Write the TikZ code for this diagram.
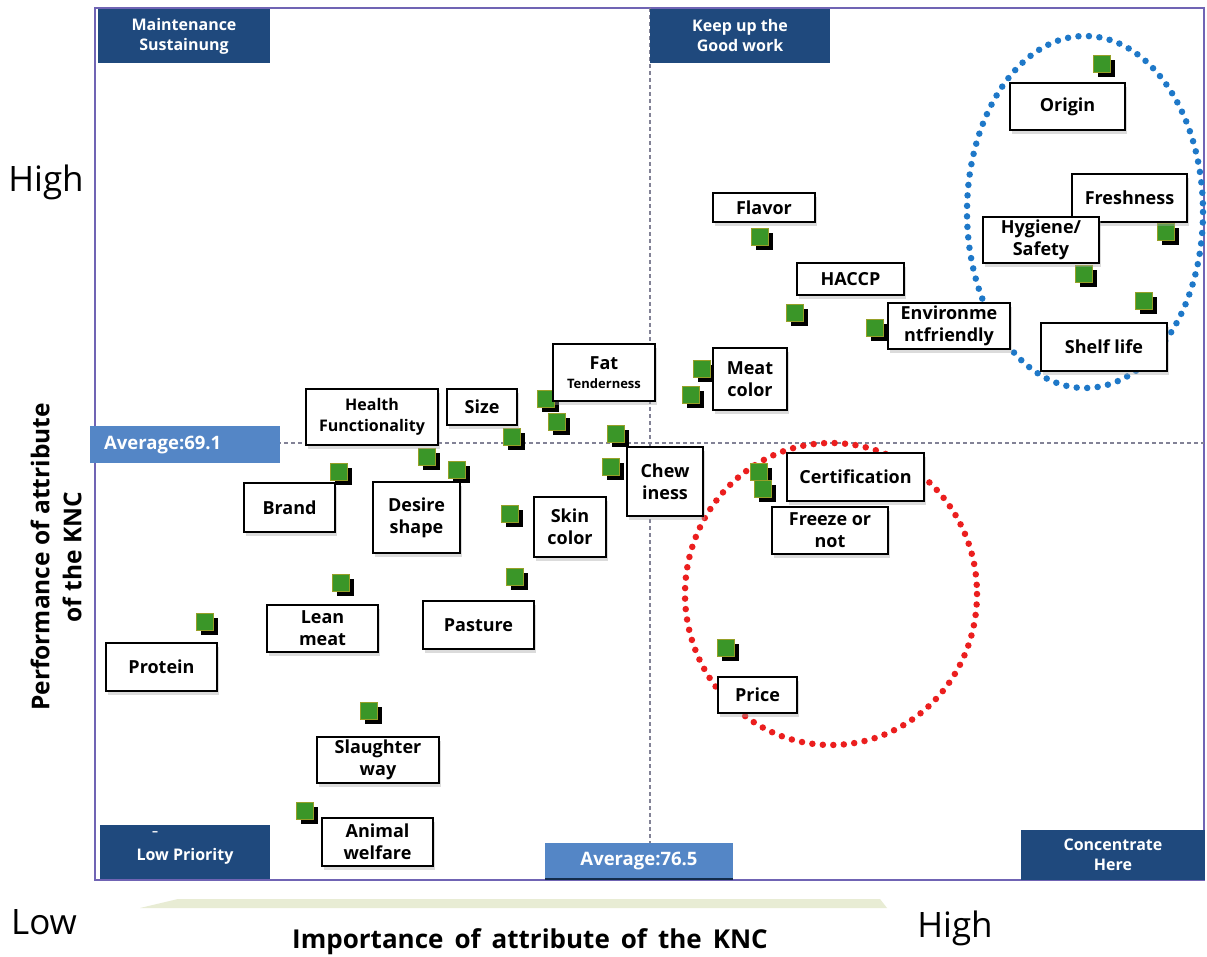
\documentclass[tikz,border=0pt]{standalone}
\usepackage{fontspec}
\setmainfont{Open Sans}
\usetikzlibrary{shadows}

\definecolor{quadblue}{RGB}{31,73,125}
\definecolor{avgblue}{RGB}{84,134,198}
\definecolor{framecol}{RGB}{112,100,180}
\definecolor{mkgreen}{RGB}{58,150,40}
\definecolor{mkedge}{RGB}{150,160,40}
\definecolor{dotblue}{RGB}{30,120,200}
\definecolor{dotred}{RGB}{235,30,30}
\definecolor{bandcol}{RGB}{232,236,212}
\definecolor{gridgray}{RGB}{130,130,150}

\begin{document}
\begin{tikzpicture}[x=1pt,y=-1pt,
  lab/.style={draw=black, line width=1.3pt, fill=white, inner sep=0pt, align=center,
    font=\fontsize{18}{22}\selectfont\bfseries,
    general shadow={fill=black!35, opacity=0.4, shadow xshift=2pt, shadow yshift=-4pt}},
  mk/.style={minimum size=17pt, inner sep=0pt, fill=mkgreen, draw=mkedge, line width=0.8pt,
    general shadow={fill=black, shadow xshift=5pt, shadow yshift=-5pt}},
  quad/.style={fill=quadblue, text=white, inner sep=0pt, align=center,
    font=\fontsize{16}{20}\selectfont\bfseries},
  avg/.style={fill=avgblue, text=white, inner sep=0pt,
    font=\fontsize{18.5}{22}\selectfont\bfseries},
  dotring/.style={line width=6.5pt, line cap=round, dash pattern=on 0pt off 10.5pt},
  grid/.style={gridgray, line width=1.2pt, dash pattern=on 4pt off 3pt}
]
% canvas
\fill[white] (0,0) rectangle (1207,957);
\useasboundingbox (0,0) rectangle (1207,957);

% plot frame and average lines
\draw[framecol, line width=2pt] (95,8) rectangle (1204,880);
\draw[grid] (650,8) -- (650,880);
\draw[grid] (95,443) -- (1204,443);

% highlighted groups
\draw[dotring, dotblue] (1085,212) ellipse [x radius=118, y radius=176];
\draw[dotring, dotred] (831,594) ellipse [x radius=146, y radius=151];

% quadrant captions
\node[quad, minimum width=172pt, minimum height=54pt] (qMS) at (184,36) {Maintenance\\Sustainung};
\node[quad, minimum width=180pt, minimum height=54pt] (qKG) at (740,36) {Keep up the\\Good work};
\node[quad, minimum width=170pt, minimum height=54pt] (qLP) at (185,852) {};
\node[quad] (qLPt) at (185,856) {Low Priority};
\node[text=white, font=\fontsize{12}{12}\selectfont\bfseries] (qLPd) at (155,834) {–};
\node[quad, minimum width=184pt, minimum height=50pt] (qCH) at (1113,855) {Concentrate\\Here};

% average markers
\node[avg, minimum width=190pt, minimum height=37pt] (avgY) at (185,444.5) {};
\node[avg, anchor=west] (avgYt) at (104,445) {Average:69.1};
\node[avg, minimum width=188pt, minimum height=36pt] (avgX) at (639,861) {Average:76.5};
\draw[quadblue!60!black, line width=2pt] (avgX.south west) -- (avgX.south east);

% attribute markers
\node[mk] (mOrigin) at (1101.5,63.5) {};
\node[mk] (mFresh) at (1165.5,231.5) {};
\node[mk] (mHyg) at (1083.5,273.5) {};
\node[mk] (mShelf) at (1143.5,300.5) {};
\node[mk] (mFlavor) at (759.5,236.5) {};
\node[mk] (mHACCP) at (794.5,312.5) {};
\node[mk] (mEnv) at (874.5,327.5) {};
\node[mk] (mMeatA) at (701.5,368.5) {};
\node[mk] (mMeatB) at (690.5,394.5) {};
\node[mk] (mFatA) at (545.5,398.5) {};
\node[mk] (mFatB) at (556.5,421.5) {};
\node[mk] (mChewA) at (615.5,433.5) {};
\node[mk] (mChewB) at (610.5,466.5) {};
\node[mk] (mSize) at (511.5,436.5) {};
\node[mk] (mHealthA) at (426.5,456.5) {};
\node[mk] (mHealthB) at (456.5,469.5) {};
\node[mk] (mBrand) at (338.5,471.5) {};
\node[mk] (mSkin) at (509.5,513.5) {};
\node[mk] (mLean) at (340.5,582.5) {};
\node[mk] (mPasture) at (514.5,576.5) {};
\node[mk] (mProtein) at (204.5,621.5) {};
\node[mk] (mSlaughter) at (368.5,710.5) {};
\node[mk] (mAnimal) at (304.5,810.5) {};
\node[mk] (mCertA) at (758.5,471.5) {};
\node[mk] (mCertB) at (762.5,488.5) {};
\node[mk] (mPrice) at (725.5,647.5) {};

% attribute labels
\node[lab, minimum width=115pt, minimum height=47pt] (lOrigin) at (1067.5,106.5) {Origin};
\node[lab, minimum width=115pt, minimum height=48pt] (lFresh) at (1129.5,198) {Freshness};
\node[lab, minimum width=116pt, minimum height=46pt] (lHyg) at (1041,240) {Hygiene/\\Safety};
\node[lab, minimum width=126pt, minimum height=48pt] (lShelf) at (1104,347) {Shelf life};
\node[lab, minimum width=102pt, minimum height=29pt] (lFlavor) at (764,207.5) {Flavor};
\node[lab, minimum width=107pt, minimum height=32pt] (lHACCP) at (850.5,279) {HACCP};
\node[lab, minimum width=122pt, minimum height=46pt] (lEnv) at (949,326) {Environme\\ntfriendly};
\node[lab, minimum width=74pt, minimum height=62pt] (lMeat) at (750,379) {Meat\\color};
\node[lab, minimum width=102pt, minimum height=57pt] (lFat) at (604,372.5)
  {Fat\\[-3pt]{\fontsize{13}{14}\selectfont Tenderness}};
\node[lab, minimum width=76pt, minimum height=69pt] (lChew) at (665,481.5) {Chew\\iness};
\node[lab, minimum width=70pt, minimum height=36pt] (lSize) at (482,407) {Size};
\node[lab, minimum width=132pt, minimum height=56pt, font=\fontsize{16}{21}\selectfont\bfseries] (lHealth) at (372,417) {Health\\Functionality};
\node[lab, minimum width=91pt, minimum height=49pt] (lBrand) at (289.5,507.5) {Brand};
\node[lab, minimum width=87pt, minimum height=71pt] (lDesire) at (416.5,517.5) {Desire\\shape};
\node[lab, minimum width=72pt, minimum height=60pt] (lSkin) at (570,527) {Skin\\color};
\node[lab, minimum width=111pt, minimum height=47pt] (lLean) at (322.5,628.5) {Lean\\meat};
\node[lab, minimum width=111pt, minimum height=48pt] (lPasture) at (478.5,625) {Pasture};
\node[lab, minimum width=111pt, minimum height=48pt] (lProtein) at (161.5,667) {Protein};
\node[lab, minimum width=122pt, minimum height=46pt] (lSlaughter) at (378,760) {Slaughter\\way};
\node[lab, minimum width=111pt, minimum height=48pt] (lAnimal) at (377.5,842) {Animal\\welfare};
\node[lab, minimum width=137pt, minimum height=48pt] (lCert) at (855.5,477) {Certification};
\node[lab, minimum width=116pt, minimum height=47pt] (lFreeze) at (830,530.5) {Freeze or\\not};
\node[lab, minimum width=79pt, minimum height=36pt] (lPrice) at (757.5,695) {Price};

% axis captions
\node[font=\fontsize{35}{38}\selectfont] (hiY) at (46,182) {High};
\node[font=\fontsize{35}{38}\selectfont] (loX) at (44,922) {Low};
\node[font=\fontsize{35}{38}\selectfont] (hiX) at (955,928) {High};
\fill[bandcol] (140,908) -- (178,899) -- (880,899) -- (887,908) -- cycle;
\node[font=\fontsize{26}{28}\selectfont\bfseries] (titleX) at (530,942)
  {\spaceskip=11pt\relax Importance of attribute of the KNC};
\node[rotate=90, align=center, font=\fontsize{24.5}{32}\selectfont\bfseries] (titleY) at (56,557)
  {Performance of attribute\\of the KNC};
\end{tikzpicture}
\end{document}
